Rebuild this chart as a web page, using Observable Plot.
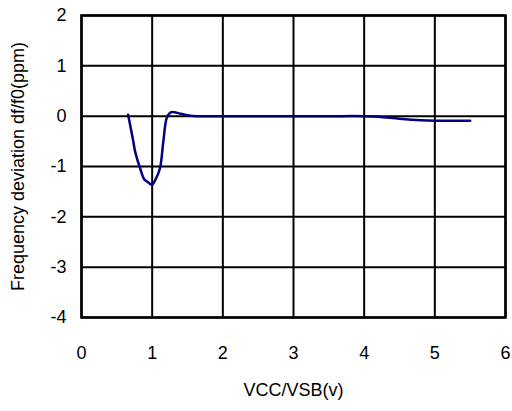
<!DOCTYPE html>
<html>
<head>
<meta charset="utf-8">
<script src="https://cdn.jsdelivr.net/npm/d3@7"></script>
<script src="https://cdn.jsdelivr.net/npm/@observablehq/plot@0.6"></script>
<style>
  html, body { margin: 0; padding: 0; background: #fff; }
  #chart svg { display: block; }
</style>
</head>
<body>
<div id="chart"></div>
<script>
// Supply voltage (V)
const vcc = [0.66, 0.73, 0.76, 0.83, 0.89, 0.93, 1.00, 1.06, 1.11, 1.16, 1.21, 1.27, 1.40, 1.54, 2.0, 2.5, 3.0, 3.5, 4.0, 4.2, 4.5, 4.8, 5.0, 5.5];
// Frequency deviation df/f0 (ppm)
const deviation = [0.03, -0.48, -0.71, -1.04, -1.26, -1.30, -1.36, -1.22, -1.04, -0.48, -0.02, 0.08, 0.05, 0.01, 0.0, 0.0, 0.0, 0.0, 0.0, -0.01, -0.05, -0.08, -0.09, -0.09];
const xTicks = [0, 1, 2, 3, 4, 5, 6];
const yTicks = [-4, -3, -2, -1, 0, 1, 2];

const data = vcc.map((v, i) => ({v, d: deviation[i]}));
const fmt = d => String(d);

const chart = Plot.plot({
  width: 512,
  height: 411,
  marginLeft: 81,
  marginRight: 7,
  marginTop: 15,
  marginBottom: 94,
  style: {fontFamily: "'Liberation Sans', Arial, sans-serif", fontSize: "18px", color: "#000", background: "#fff"},
  x: {domain: [0, 6]},
  y: {domain: [-4, 2]},
  marks: [
    Plot.ruleX(xTicks, {stroke: "#000", strokeWidth: 2}),
    Plot.ruleY(yTicks, {stroke: "#000", strokeWidth: 2}),
    Plot.frame({stroke: "#000", strokeWidth: 2.5}),
    Plot.line(data, {x: "v", y: "d", stroke: "#000080", strokeWidth: 2.5, curve: "catmull-rom"}),
    Plot.axisX(xTicks, {tickSize: 0, tickPadding: 29, fontSize: 18, tickFormat: fmt, label: "VCC/VSB(v)", labelAnchor: "center", labelOffset: 78, labelArrow: "none"}),
    Plot.axisY(yTicks, {tickSize: 0, tickPadding: 15, fontSize: 18, tickFormat: fmt, label: "Frequency deviation df/f0(ppm)", labelAnchor: "center", labelOffset: 70, labelArrow: "none"})
  ]
});
document.getElementById("chart").appendChild(chart);
</script>
</body>
</html>
